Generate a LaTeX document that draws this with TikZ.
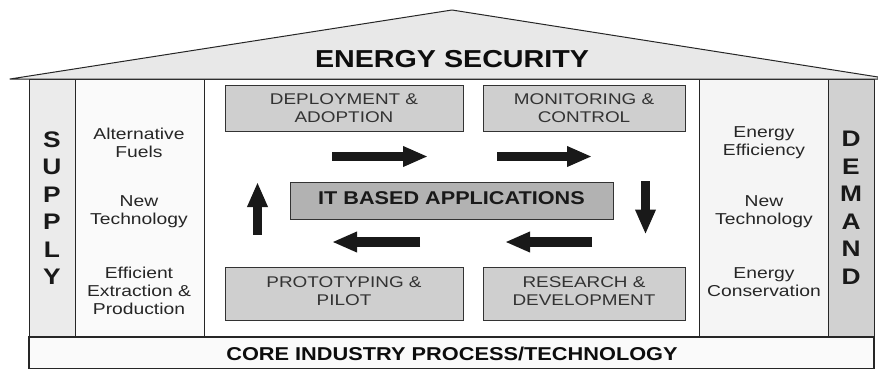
\documentclass[tikz,border=0pt]{standalone}
\usepackage{fontspec}
\setmainfont{Liberation Sans}[FakeStretch=1.22,BoldFeatures={FakeStretch=1.17}]
\usetikzlibrary{arrows.meta}
\tikzset{
  wall/.style={draw=black!85,line width=1pt},
  procbox/.style={draw=black!80,line width=1pt,fill=black!19},
  boxtext/.style={align=center,font=\fontsize{15.5}{18}\selectfont,text=black!80,inner sep=0pt},
  sidetext/.style={align=center,font=\fontsize{15.8}{18}\selectfont,text=black!85,inner sep=0pt},
  vert/.style={align=center,font=\fontsize{22.5}{27.5}\bfseries\selectfont,text=black!90,inner sep=0pt},
  flow/.style={draw=black!90,line width=9.5pt,-{Triangle[length=25pt,width=19pt]}},
}
\begin{document}
\begin{tikzpicture}[x=1pt,y=-1pt]
\useasboundingbox (0,0) rectangle (878,368);
\path[fill=white] (0,0) rectangle (878,368);
% walls
\draw[wall,fill=black!8] (29,79) rectangle (75,337);
\draw[wall,fill=black!2] (75,79) rectangle (204,337);
\draw[wall,fill=white] (204,79) rectangle (699,337);
\draw[wall,fill=black!4] (699,79) rectangle (828,337);
\draw[wall,fill=black!18] (828,79) rectangle (874,337);
\draw[wall,fill=black!2,line width=1.3pt] (29,337) rectangle (874,369);
% roof
\draw[wall,fill=black!9,line join=round] (10,79) -- (452,10) -- (878,77) -- (878,79) -- cycle;
\node[font=\fontsize{24.5}{28}\bfseries\selectfont,text=black!95,inner sep=0pt] (roof) at (452,59.5) {ENERGY SECURITY};
\node[font=\fontsize{18.6}{22}\bfseries\selectfont,text=black!95,inner sep=0pt] (core) at (452,354) {CORE INDUSTRY PROCESS/TECHNOLOGY};
% side labels
\node[vert] (supply) at (52,208) {S\\U\\P\\P\\L\\Y};
\node[vert] (demand) at (851,208) {D\\E\\M\\A\\N\\D};
\node[sidetext] (s1) at (139,143) {Alternative\\Fuels};
\node[sidetext] (s2) at (139,212) {New\\Technology};
\node[sidetext] (s3) at (139,291) {Efficient\\Extraction \&\\Production};
\node[sidetext] (d1) at (764,143) {Energy\\Efficiency};
\node[sidetext] (d2) at (764,212) {New\\Technology};
\node[sidetext] (d3) at (764,282) {Energy\\Conservation};
% process boxes
\node[procbox,minimum width=238pt,minimum height=46pt,inner sep=0pt] (deploy) at (344,108) {};
\node[boxtext] at (344,108) {DEPLOYMENT \&\\ADOPTION};
\node[procbox,minimum width=202pt,minimum height=46pt,inner sep=0pt] (monitor) at (584,108) {};
\node[boxtext] at (584,108) {MONITORING \&\\CONTROL};
\node[procbox,minimum width=238pt,minimum height=53pt,inner sep=0pt] (proto) at (344,293.5) {};
\node[boxtext] at (344,291) {PROTOTYPING \&\\PILOT};
\node[procbox,minimum width=202pt,minimum height=53pt,inner sep=0pt] (research) at (584,293.5) {};
\node[boxtext] at (584,291) {RESEARCH \&\\DEVELOPMENT};
\node[procbox,fill=black!30,minimum width=323pt,minimum height=37pt,inner sep=0pt] (it) at (451.5,200.5) {};
\node[font=\fontsize{18.5}{22}\bfseries\selectfont,text=black!90,inner sep=0pt] at (451.5,198) {IT BASED APPLICATIONS};
% flow arrows
\coordinate (a1) at (332,156.5); \coordinate (a2) at (428,156.5);
\coordinate (b1) at (497,156.5); \coordinate (b2) at (592,156.5);
\coordinate (c1) at (645.5,181); \coordinate (c2) at (645.5,234.5);
\coordinate (d1a) at (592,242); \coordinate (d2a) at (505,242);
\coordinate (e1) at (420,242); \coordinate (e2) at (332,242);
\coordinate (f1) at (257.5,234.5); \coordinate (f2) at (257.5,182);
\draw[flow] (a1) -- (a2);
\draw[flow] (b1) -- (b2);
\draw[flow] (c1) -- (c2);
\draw[flow] (d1a) -- (d2a);
\draw[flow] (e1) -- (e2);
\draw[flow] (f1) -- (f2);
\end{tikzpicture}
\end{document}
